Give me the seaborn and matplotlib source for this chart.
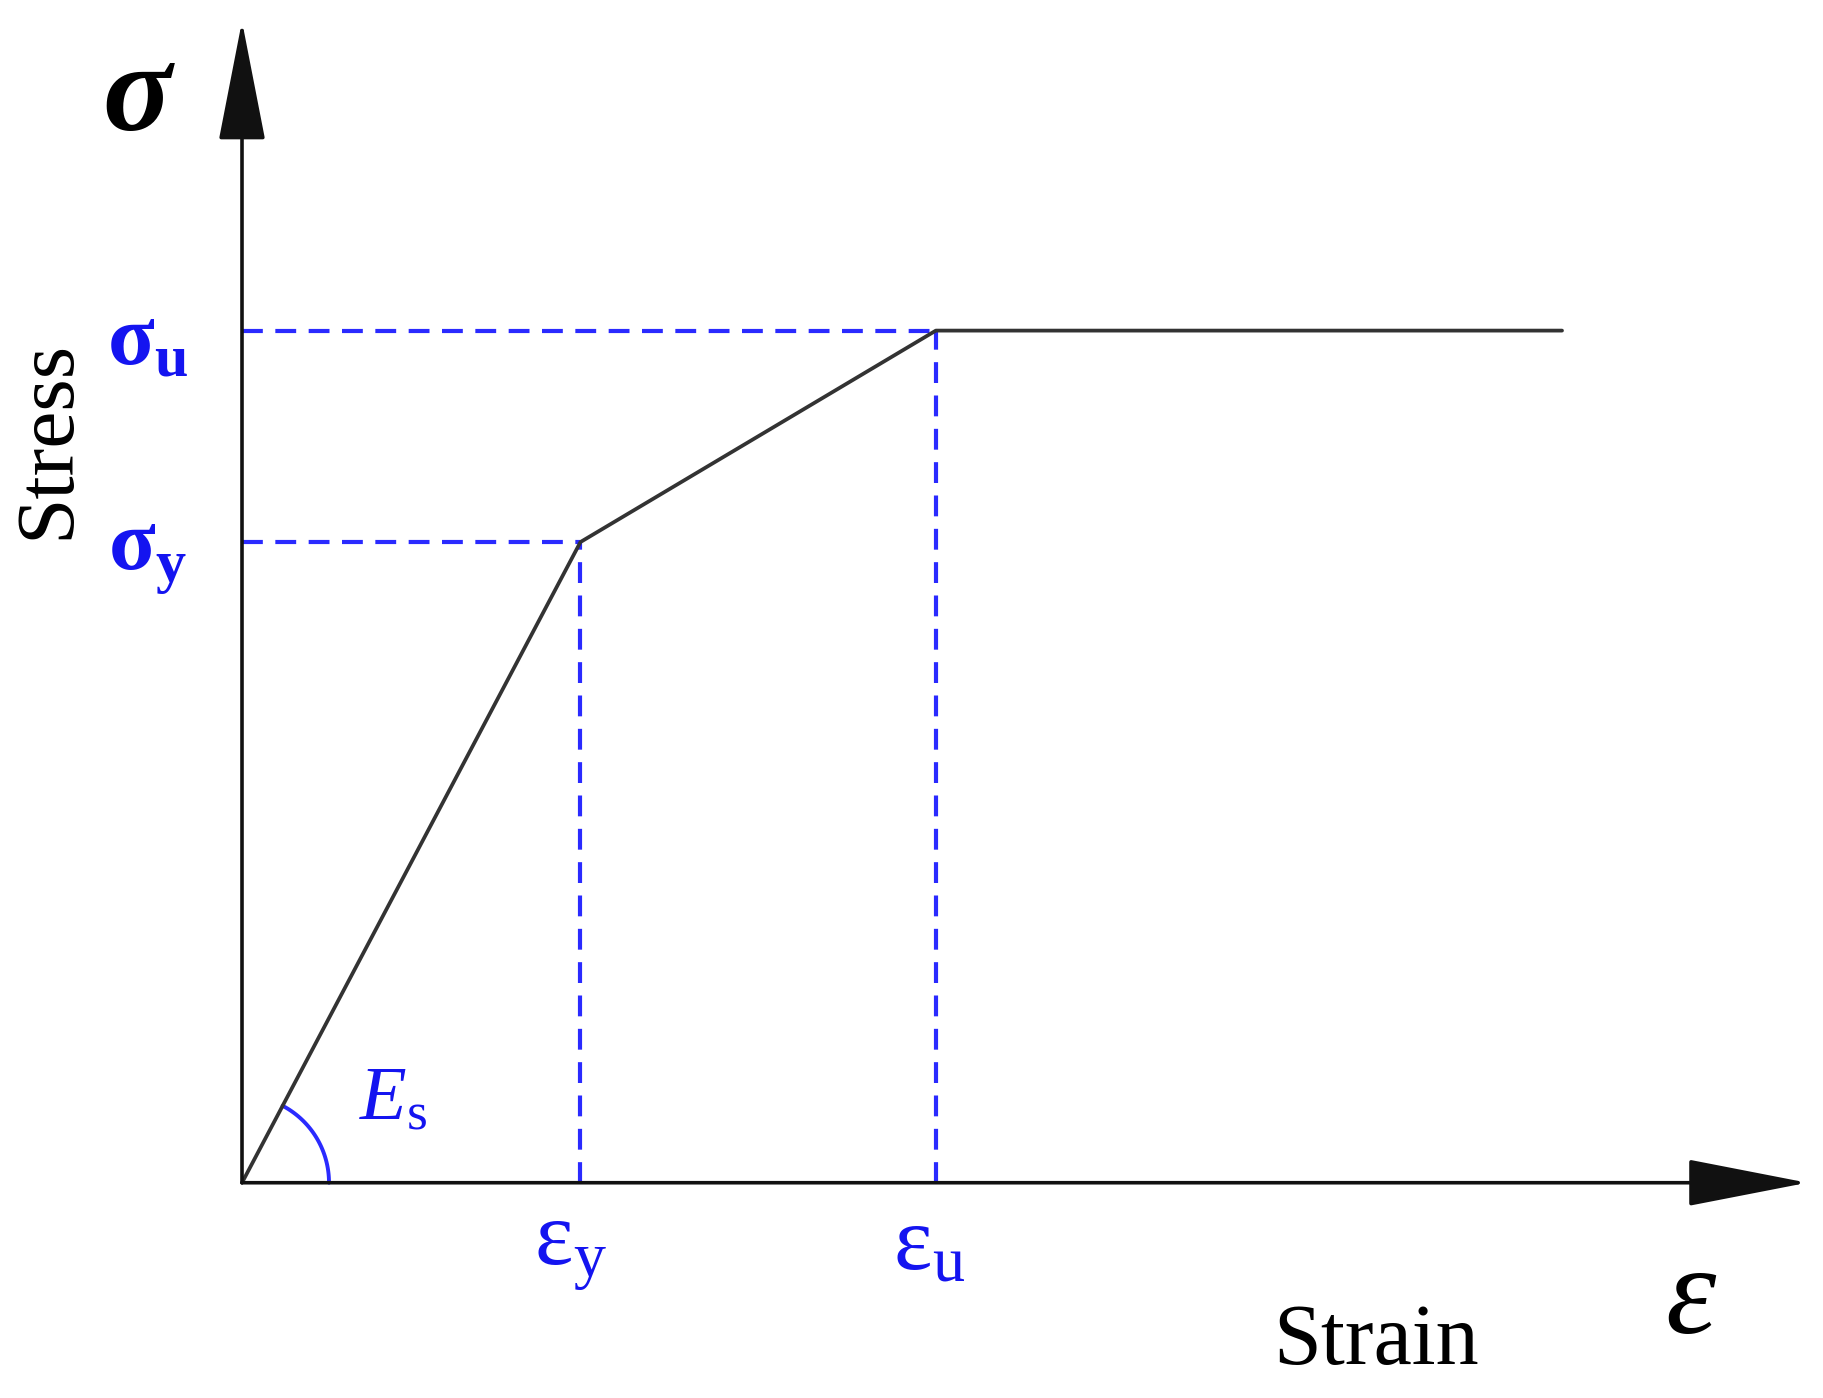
import numpy as np
import pandas as pd
import matplotlib
matplotlib.use("Agg")
import matplotlib.pyplot as plt
import seaborn as sns

# schematic bilinear stress-strain model (arbitrary units)
strain = [0.0, 1.0, 2.05, 3.9]
stress = [0.0, 1.0, 1.33, 1.33]
eps_y, eps_u = 1.0, 2.05
sig_y, sig_u = 1.0, 1.33

sns.set_theme(style="white")
plt.rcParams['font.family'] = ['Liberation Serif', 'DejaVu Serif']
plt.rcParams['mathtext.fontset'] = 'custom'
plt.rcParams['mathtext.rm'] = 'Liberation Serif'
plt.rcParams['mathtext.it'] = 'Liberation Serif:italic'
plt.rcParams['mathtext.bf'] = 'Liberation Serif:bold'

blue = '#2a2aff'
txtblue = '#1414f0'
dash = (0, (5, 3))

fig = plt.figure(figsize=(18.24, 13.98), dpi=100)
ax = fig.add_axes([0, 0, 1, 1])
ax.set_xlim(-0.715, 4.674)
ax.set_ylim(-0.336, 1.846)
ax.axis('off')

df = pd.DataFrame({'strain': strain, 'stress': stress})
sns.lineplot(data=df, x='strain', y='stress', sort=False, color='#333333', lw=2.7, ax=ax, zorder=3)

# dashed guide lines
ax.plot([0, eps_u], [sig_u, sig_u], ls=dash, color=blue, lw=3.0, zorder=2)
ax.plot([0, eps_y], [sig_y, sig_y], ls=dash, color=blue, lw=3.0, zorder=2)
ax.plot([eps_y, eps_y], [0, sig_y], ls=dash, color=blue, lw=3.0, zorder=2)
ax.plot([eps_u, eps_u], [0, sig_u], ls=dash, color=blue, lw=3.0, zorder=2)

# axes with arrows
arr = dict(arrowstyle='-|>,head_length=0.77,head_width=0.15', mutation_scale=100,
           color='#111111', lw=2.6, shrinkA=0, shrinkB=0)
ax.annotate('', xy=(0, 1.813), xytext=(0, 0), arrowprops=arr, zorder=4)
ax.annotate('', xy=(4.625, 0), xytext=(0, 0), arrowprops=arr, zorder=4)

# modulus arc
fig.canvas.draw()
o = ax.transData.transform((0, 0))
p = ax.transData.transform((eps_y, sig_y))
ang = np.arctan2(p[1] - o[1], p[0] - o[0])
t = np.linspace(0, ang, 60)
r = 87
arc = ax.transData.inverted().transform(np.column_stack([o[0] + r * np.cos(t), o[1] + r * np.sin(t)]))
ax.plot(arc[:, 0], arc[:, 1], color=blue, lw=2.8)

# labels
ax.text(-0.31, 1.69, 'σ', fontsize=92, fontstyle='italic', fontweight='bold',
        ha='center', va='center', color='black')
ax.text(-0.57, 1.16, 'Stress', fontsize=60, rotation=90, ha='center', va='center', color='black')
ax.text(-0.28, 1.31, r'$\mathbf{\sigma_{u}}$', fontsize=62, ha='center', va='center', color=txtblue)
ax.text(-0.28, 0.978, r'$\mathbf{\sigma_{y}}$', fontsize=62, ha='center', va='center', color=txtblue)
ax.text(0.97, -0.109, r'$\mathrm{\varepsilon_{y}}$', fontsize=66, ha='center', va='center', color=txtblue)
ax.text(2.03, -0.10, r'$\mathrm{\varepsilon_{u}}$', fontsize=66, ha='center', va='center', color=txtblue)
ax.text(0.447, 0.129, r'$E_{\mathrm{s}}$', fontsize=55, ha='center', va='center', color=txtblue)
ax.text(4.28, -0.187, r'$\varepsilon$', fontsize=92, ha='center', va='center', color='black')
ax.text(3.35, -0.25, 'Strain', fontsize=62, ha='center', va='center', color='black')

fig.savefig('out.png', dpi=100)
